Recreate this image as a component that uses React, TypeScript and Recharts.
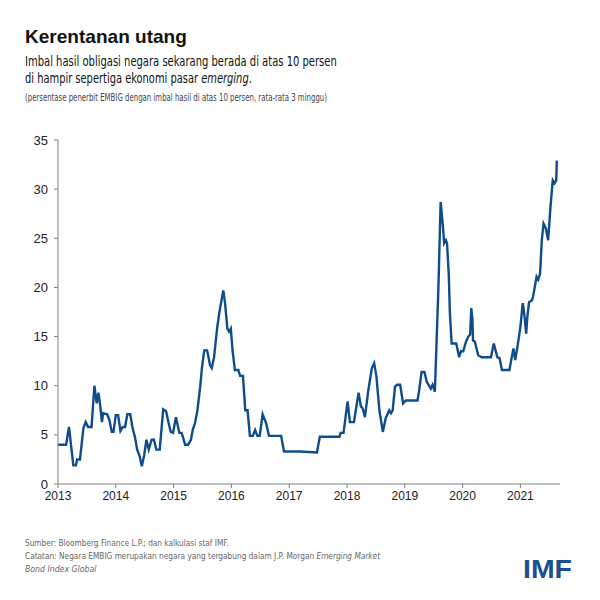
import React, { useLayoutEffect, useRef, useState } from "react";
import { LineChart, Line, XAxis, YAxis } from "recharts";

/* posisi waktu (tahun desimal) dan persentase penerbit EMBIG > 10% */
const waktu = [
  2013.0, 2013.14, 2013.19, 2013.265, 2013.31, 2013.33, 2013.38, 2013.44, 2013.48, 2013.52,
  2013.58, 2013.63, 2013.67, 2013.7, 2013.73, 2013.76, 2013.78, 2013.85, 2013.89, 2013.93,
  2013.96, 2014.0, 2014.04, 2014.08, 2014.12, 2014.16, 2014.2, 2014.25, 2014.29, 2014.33,
  2014.37, 2014.41, 2014.45, 2014.49, 2014.53, 2014.57, 2014.62, 2014.66, 2014.7, 2014.76,
  2014.82, 2014.87, 2014.91, 2014.95, 2014.99, 2015.04, 2015.1, 2015.14, 2015.2, 2015.25,
  2015.3, 2015.33, 2015.37, 2015.41, 2015.46, 2015.49, 2015.53, 2015.58, 2015.63, 2015.66,
  2015.7, 2015.75, 2015.79, 2015.82, 2015.86, 2015.89, 2015.93, 2015.96, 2015.99, 2016.02,
  2016.06, 2016.12, 2016.15, 2016.2, 2016.24, 2016.28, 2016.32, 2016.37, 2016.41, 2016.45,
  2016.49, 2016.54, 2016.6, 2016.65, 2016.86, 2016.91, 2017.19, 2017.48, 2017.53, 2017.87,
  2017.89, 2017.94, 2018.01, 2018.05, 2018.12, 2018.2, 2018.24, 2018.27, 2018.31, 2018.37,
  2018.43, 2018.47, 2018.51, 2018.56, 2018.62, 2018.67, 2018.73, 2018.76, 2018.79, 2018.83,
  2018.87, 2018.92, 2018.97, 2019.02, 2019.22, 2019.25, 2019.29, 2019.34, 2019.38, 2019.45,
  2019.48, 2019.52, 2019.58, 2019.62, 2019.66, 2019.68, 2019.71, 2019.73, 2019.76, 2019.78,
  2019.81, 2019.89, 2019.94, 2019.97, 2020.01, 2020.06, 2020.1, 2020.13, 2020.15, 2020.17,
  2020.18, 2020.21, 2020.27, 2020.33, 2020.49, 2020.54, 2020.6, 2020.64, 2020.68, 2020.81,
  2020.85, 2020.88, 2020.91, 2020.95, 2020.98, 2021.0, 2021.04, 2021.06, 2021.1, 2021.12,
  2021.15, 2021.2, 2021.22, 2021.25, 2021.28, 2021.31, 2021.34, 2021.37, 2021.4, 2021.44,
  2021.48, 2021.52, 2021.56, 2021.59, 2021.62, 2021.63,
];

const persen = [
  4.0, 4.0, 5.8, 1.9, 1.9, 2.5, 2.5, 5.7, 6.3, 5.8,
  5.8, 10.0, 8.2, 9.3, 8.0, 6.3, 7.2, 7.1, 6.5, 5.3,
  5.3, 7.0, 7.0, 5.4, 5.8, 5.8, 7.1, 7.1, 5.7, 4.8,
  3.5, 2.9, 1.8, 2.9, 4.5, 3.5, 4.5, 4.5, 3.5, 3.5,
  7.6, 7.4, 6.3, 5.3, 5.2, 6.8, 5.2, 5.2, 4.0, 4.0,
  4.5, 5.5, 6.2, 7.4, 9.9, 11.8, 13.6, 13.6, 12.1, 11.8,
  12.9, 15.7, 17.4, 18.4, 19.7, 18.4, 15.8, 15.5, 15.8, 13.6,
  11.6, 11.6, 11.0, 11.0, 7.5, 7.5, 4.9, 4.9, 5.5, 4.9,
  4.9, 7.1, 6.2, 4.9, 4.9, 3.3, 3.3, 3.2, 4.8, 4.8,
  5.2, 5.2, 8.4, 6.3, 6.3, 9.3, 7.9, 7.7, 6.8, 9.6,
  11.8, 12.3, 10.9, 7.5, 5.3, 6.7, 7.5, 7.2, 7.5, 9.9,
  10.1, 10.1, 8.2, 8.5, 8.5, 9.6, 11.4, 11.4, 10.4, 9.7,
  10.1, 9.4, 19.7, 28.7, 26.2, 24.5, 24.8, 24.5, 21.4, 17.4,
  14.3, 14.3, 12.9, 13.5, 13.5, 14.5, 15.0, 15.2, 17.9, 16.7,
  14.6, 14.5, 13.1, 12.9, 12.9, 14.3, 12.9, 12.8, 11.6, 11.6,
  12.9, 13.8, 12.6, 14.0, 15.2, 16.0, 18.4, 17.7, 15.3, 17.0,
  18.5, 18.7, 19.1, 20.1, 21.1, 20.8, 21.4, 24.8, 26.5, 26.0,
  24.8, 28.2, 30.9, 30.6, 30.9, 32.9,
];

const tahunTicks = [2013, 2014, 2015, 2016, 2017, 2018, 2019, 2020, 2021];
const nilaiTicks = [0, 5, 10, 15, 20, 25, 30, 35];

const data = waktu.map((t, i) => ({ t, v: persen[i] }));

const narrow = "'Liberation Sans Narrow', 'DejaVu Sans Condensed', 'Arial Narrow', sans-serif";
const arial = "'Liberation Sans', Arial, sans-serif";

// teks yang diperlebar/dipersempit agar lebarnya sama dengan referensi
function FitText({ x, y, w, size, fill, bold, italic, family, children }: any) {
  const ref = useRef<SVGTextElement>(null);
  const [sx, setSx] = useState(1);
  useLayoutEffect(() => {
    if (!ref.current) return;
    const nat = ref.current.getBBox().width;
    if (nat > 0) setSx(w / nat);
  }, [w]);
  return (
    <g transform={`translate(${x},${y}) scale(${sx},1)`}>
      <text
        ref={ref}
        x={0}
        y={0}
        fontFamily={family || narrow}
        fontSize={size}
        fill={fill}
        fontWeight={bold ? "bold" : "normal"}
        fontStyle={italic ? "italic" : "normal"}
      >
        {children}
      </text>
    </g>
  );
}

export default function App() {
  return (
    <div
      style={{
        position: "absolute",
        left: 0,
        top: 0,
        width: 600,
        height: 600,
        background: "#fff",
      }}
    >
      <LineChart
        width={600}
        height={600}
        data={data}
        margin={{ top: 140, right: 40, left: 0, bottom: 0 }}
      >
        <XAxis
          dataKey="t"
          type="number"
          domain={[2013, 2021.685]}
          ticks={tahunTicks}
          allowDataOverflow
          height={116}
          tickSize={4}
          tickMargin={3}
          stroke="#7f7f7f"
          tick={{ fill: "#222", fontSize: 12, fontFamily: arial }}
        />
        <YAxis
          type="number"
          domain={[0, 35]}
          ticks={nilaiTicks}
          width={58}
          tickSize={4}
          tickMargin={6}
          stroke="#7f7f7f"
          tick={{ fill: "#222", fontSize: 13, fontFamily: arial }}
        />
        <Line
          dataKey="v"
          type="linear"
          stroke="#0f4c8c"
          strokeWidth={2.4}
          dot={false}
          isAnimationActive={false}
        />
      </LineChart>

      <svg
        width={600}
        height={600}
        style={{ position: "absolute", left: 0, top: 0, pointerEvents: "none" }}
      >
        {/* judul */}
        <FitText x={25} y={43} w={162} size={19} fill="#111" bold family={arial}>
          Kerentanan utang
        </FitText>
        <FitText x={25} y={66} w={312} size={14.5} fill="#111">
          Imbal hasil obligasi negara sekarang berada di atas 10 persen
        </FitText>
        <FitText x={25} y={83} w={227} size={14.5} fill="#111">
          di hampir sepertiga ekonomi pasar <tspan fontStyle="italic">emerging</tspan>.
        </FitText>
        <FitText x={25} y={101} w={302} size={10.5} fill="#444">
          (persentase penerbit EMBIG dengan imbal hasil di atas 10 persen, rata-rata 3 minggu)
        </FitText>

        {/* catatan kaki */}
        <FitText x={25} y={546} w={204} size={9.5} fill="#666">
          Sumber: Bloomberg Finance L.P.; dan kalkulasi staf IMF.
        </FitText>
        <FitText x={25} y={559} w={356} size={9.5} fill="#666">
          Catatan: Negara EMBIG merupakan negara yang tergabung dalam J.P. Morgan{" "}
          <tspan fontStyle="italic">Emerging Market</tspan>
        </FitText>
        <FitText x={25} y={572} w={72} size={9.5} fill="#666" italic>
          Bond Index Global
        </FitText>

        {/* logo */}
        <FitText x={523} y={578} w={49} size={25} fill="#1a5090" bold family={arial}>
          IMF
        </FitText>
      </svg>
    </div>
  );
}
